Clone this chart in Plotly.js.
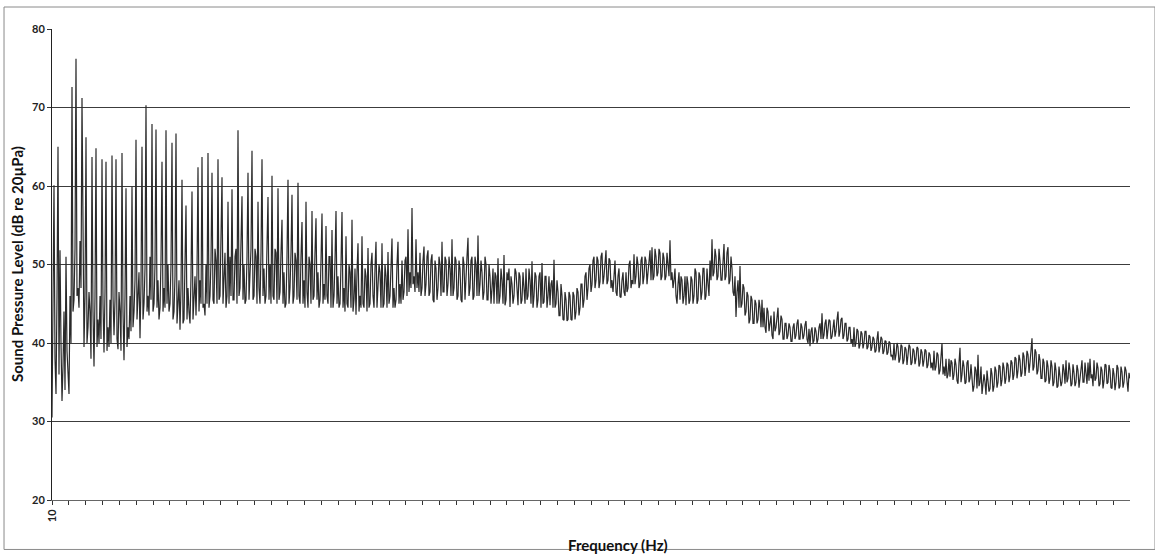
<!DOCTYPE html>
<html>
<head>
<meta charset="utf-8">
<script src="https://cdn.plot.ly/plotly-3.0.1.min.js"></script>
<style>html,body{margin:0;padding:0;background:#fff;}#chart{width:1155px;height:555px;}</style>
</head>
<body>
<div id="chart"></div>
<script>
// Frequency axis: category axis, only the first label is printed
const xTickLabels = ["10"];
const yTicks = [20, 30, 40, 50, 60, 70, 80];

// Sound pressure level (dB re 20µPa).
// Even-numbered frequency bins (0, 2, 4, ...)
const splEvenLow = [
 30.5,60.1,33.5,65.0,51.8,32.6,44,51.0,35,46,72.6,45.5,76.2,47,53,71.2,39.5,66.2,42,44,
 63.7,37,64.8,43,46,63.4,38.8,63.1,42,45.5,63.9,41,63.4,39.2,44,64.2,37.8,59.7,42,46,
 59.9,44,65.9,47,40.6,65.0,45,70.3,46,51,67.9,45,67.2,48,44.5,63.1,47,67.1,50,45,
 65.5,44,66.7,45,41.7,60.8,43,57.5,47,42.5,59.3,46,43.5,62.4,48,63.7,45,50,64.2,46,
 61.7,45,50.5,63.4,46,61.1,49,44.5,58.0,51,59.6,45.5,52,67.1,47,58.7,50,45.5,61.7,48,
 64.5,46,51,58.0,45,63.4,49.5,46,58.6,50,61.3,45.5,51.5,59.7,46.5,55.7,49,45,60.8,47,
 58.9,46,50.5,60.4,45,55.4,48,58.0,44.5,50,56.8,46,55.9,49,45.5,56.5,47.5,54.9,45,51,
 54.4,46,56.8,48.5,45,56.7,47,53.6,44.5,49,55.7,45.5,43.6,52.7,46,53.6,44.5,48.5,52.1,45,
 51.5,44.5,52.9,46.5,49,52.7,45,48.5,51.6,46,53.3,47,45.5,52.9,47.5,50.5,46.5,51,54.5,49
];
const splEvenMid = [
 57.2,48.5,53.2,49,51.5,47,52.3,47.5,51.8,46.5,51.3,45.2,49.5,47,50,52.9,46.5,50.5,47.5,49.5,
 53.2,47,50.5,46,49.5,45.2,50,47.5,53.4,47,51,46,50,53.7,47.5,49,46.5,50,45.5,48.5,
 47,45,48.5,50.8,46,48,51.2,45.5,48,44.6,47.5,46,49,44.8,48.5,45.5,47.5,49.5,46,48,
 50.4,46,48.5,45.5,49,50.2,45.2,48.5,46,44.8,48,50.6,45,46.5,43.5,46,42.9,45.5,43,46,
 42.9,46,44,46.5,44.5,47.5,45.5,49,47,50,47.5,51,48,50.5,47.8,51.5,48.5,51.8,48,50.5,
 48,49.5,46.5,48.5,45.9,48,46.5,49,47,50.5,48,51.3,48.5,50,47.5,51,48.5,50.5,49,51.8,
 52.2,48.5,51,49,51.5,48.5,50.8,48.5,50,53.1,49,48,46,47.5,45.5,48,46,44.8,47.5,45.5,
 48,46,49,45.5,48.5,46.5,49.5,46,47.5,50.5,53.2,49,51,48.5,50.5,48,52.6,48.5,52.2,48,
 49.5,46,43.3,48,49.8,45,47,44,46,43,45.5,42.5,45,43,44.5,45.5,44.5,41.3,44,42.5
];
const splEvenHigh = [
 41,44,42,44.5,41.5,43,40.5,42.5,41,42,40.2,42.5,41,43,40.5,42,41,42.8,40,39.6,
 42,40.3,41.5,40.5,42.5,43.8,41,43,41.5,42.8,40.8,43,41.5,44,41.5,43.2,41,42.5,40.5,42,
 40.5,42,40,41.5,39.8,41.2,40,41.5,39.5,40.8,39.5,40.5,39,41.5,39.5,40.5,39,40.2,38.8,40,
 38.5,40,38.5,39.5,38,39.6,37.8,39.2,38.2,39.5,37.5,39,38,39.3,37.5,38.8,37.8,39,37.2,38.5,
 37.5,39,37,38.5,36.5,40,37,38,36,35.7,37.5,36,37.2,34.8,39.4,36,37,35,37.8,35.5,
 36,34.5,36.5,38.5,35,33.5,36,33.4,35.5,34.2,36,34.5,36.5,35,37,35.3,36.8,35.5,37.2,35.8,
 37.5,36,38,36.5,37.8,36.2,38.3,37,38.5,37.5,40.6,37,38.8,36.5,37.8,35.5,37.5,35.2,37,35.5,
 37,35,36.5,34.5,36,35,36.5,37.8,35.5,36.5,34.8,36.2,35,36.5,35.5,37.8,35,36.5,37.5,38,
 36,37.8,35.5,36.8,34.8,36.5,35.2,37.2,35,36.5,34.2,36,35,36.8,34.5,36.3,35,36.5,33.8,35.5
];
// Odd-numbered frequency bins (1, 3, 5, ...)
const splOdd = [
 45,38,46,36,40,37,34,39,33.5,40,44,52,46,44.5,47,46.5,46,40,46.5,38,
 44,46,39.5,40,40.5,45,46.5,39,39.5,40,46,45.5,40.5,46.5,39,44,46,39.5,40.5,41.5,
 42,48,43,49,47.5,43,49.5,44,43.5,45.5,44,50,44.5,43,50.5,44,44.5,45,44,50,
 43,48.5,42.5,48,47,42.5,48.5,43,44,48.5,43,48.5,49,44,45,44.5,43.5,45,44.5,50.5,
 45.5,52,45,45.5,51.5,45,51.5,46,45,46,45.5,51,45,46,51.5,45.5,45,51,45.5,52,
 45.5,52,45,47,51.5,46,45,51.5,45.5,45,46,52,45,45.5,51.5,45,44.5,51,45,51.5,
 45,51.5,45.5,46,51,45,44.5,46.5,51,45,45.5,51.5,45.5,44.5,50.5,45,45.5,46,51,44.5,
 44.5,50.5,45,44.5,50,44.5,44,45,50,44.5,44,49.5,49,44,44.5,45,49.5,44,44.5,50,
 46,49.5,44.5,50,44.5,44.5,50,44.5,45,50,44.5,44.5,50,45,45,45.5,50.5,46,46.5,47,
 47.5,46.5,47,46.5,46,50.5,46,51,46,50.5,45.5,50.5,45.5,51,46,46.5,51,46,51,46,
 46,51,45.5,50.5,45.5,51,45.5,51,46,50.5,45.5,51,46,46,50.5,45.5,51,45.5,50,45,
 49.5,49,45,45,49.5,45,44.8,49,49.5,48.5,45,49.5,46,49,45,49,45,45.5,49.5,45,
 44.5,49,44.5,48.5,44.5,45,48.5,44.5,48.5,47.5,44.5,44.5,48,43.5,47.5,43,46.5,42.8,46.5,43,
 46.5,43,47,43.5,47.5,44.5,48.5,45.5,49.5,46.5,50.5,47,51,47,51,47.5,51,47.5,50.8,47,
 46.5,50.5,46,49.5,45.8,49,46,46.5,50,47,47.5,47.5,51,47,50.5,47.5,51,47.5,51.2,48,
 48,52,48.5,52,48,51.5,48,51.5,48.5,48,47,49.5,45,49,48.5,45,48.5,48.5,45,48.5,
 45,49.5,45,49,45.5,49.5,45.5,49.5,46,48,48.5,52,48,52,48,51.5,48,51.5,47.5,51,
 46.5,48.5,46.5,44.5,44.5,47.5,43.5,46.5,42.5,46,42.5,45.5,42.5,45.5,42,42,42,44.5,41.5,43.5,
 40.5,41.5,43.5,41,43.5,40.5,42.5,40.5,42.5,40.2,42,40.5,42.5,40.5,42.5,40.5,42.3,40.5,41.8,41.5,
 40,42,40,42,40.5,40.5,42.5,40.5,43,40.5,42.5,40.8,43,40.8,43,40.5,42.5,40.2,42,40,
 39.5,39.5,41.8,39.3,41.5,39.3,41.5,39.2,41,39,40.8,38.8,40.5,38.8,40.8,38.6,40.3,38.5,40.2,38.3,
 37.8,37.8,40,37.5,39.8,37.3,39.5,37.2,39.8,37.2,39.3,37.3,39.5,37,39.2,37,39.2,36.8,38.8,36.8,
 36.5,36.5,38.8,36,38.5,36,35.8,35.5,38,37.8,35.3,38,35.2,37.5,35,37.8,34.8,37.5,35,37.3,
 33.8,37,34.2,34.5,37,35.5,35,36.5,33.8,36.8,33.8,37,34.3,37.2,34.5,37.5,34.8,37.5,35,37.8,
 35.3,38.2,35.5,38.5,35.7,38.8,35.8,39,36.2,38.8,36.5,39.2,36,38.6,35.5,38,35,37.8,34.8,37.8,
 34.5,37.5,34.3,37,34.5,37.3,34.8,35,37.5,34.5,37.3,34.5,37.2,34.3,37,35,37.5,34.8,35.2,35.5,
 34.5,35.2,37.5,34.5,37,34.2,37.3,34.8,37.2,34.3,36.8,34,37.2,34.2,37,34.3,37,34.5,36.2
];

// merge even and odd bins into one spectrum in frequency order
const splEven = splEvenLow.concat(splEvenMid, splEvenHigh);
const spl = [];
for (let k = 0; k < splEven.length; k++) {
  spl.push(splEven[k]);
  if (k < splOdd.length) spl.push(splOdd[k]);
}
const n = spl.length;

// tick marks along the category axis (every ~16.85 bins)
const tickStep = 16.85;
const tickvals = [], ticktext = [];
for (let k = 0; k * tickStep <= n - 1; k++) {
  tickvals.push(k * tickStep);
  ticktext.push(k < xTickLabels.length ? xTickLabels[k] : "");
}

const FONT = "Lato, 'Open Sans', 'DejaVu Sans', sans-serif";

Plotly.newPlot("chart", [{
  y: spl,
  type: "scatter",
  mode: "lines",
  line: {color: "#2a2a2a", width: 1.2},
  hoverinfo: "skip"
}], {
  width: 1155, height: 555,
  margin: {l: 52, r: 25, t: 29, b: 55},
  paper_bgcolor: "#fff", plot_bgcolor: "#fff",
  showlegend: false,
  xaxis: {
    range: [0, n - 1], showgrid: false, zeroline: false,
    showline: true, linecolor: "#666", linewidth: 1,
    tickmode: "array", tickvals: tickvals, ticktext: ticktext,
    ticks: "outside", ticklen: 4, tickcolor: "#333", tickangle: -90,
    tickfont: {family: FONT, size: 11, color: "#222", weight: "bold"}
  },
  yaxis: {
    range: [20, 80], tickmode: "array", tickvals: yTicks,
    showgrid: true, gridcolor: "#3c3c3c", gridwidth: 1, zeroline: false,
    showline: true, linecolor: "#222", linewidth: 1,
    ticks: "outside", ticklen: 4, tickcolor: "#333",
    tickfont: {family: FONT, size: 11, color: "#222", weight: "bold"}
  },
  annotations: [
    {text: "Sound Pressure Level (dB re 20µPa)", xref: "paper", yref: "paper",
     x: -0.0325, y: 0.501, xanchor: "center", yanchor: "middle", textangle: -90,
     showarrow: false, font: {family: FONT, size: 15, color: "#111", weight: "bold"}},
    {text: "Frequency (Hz)", xref: "paper", yref: "paper",
     x: 0.525, y: -0.0955, xanchor: "center", yanchor: "middle",
     showarrow: false, font: {family: FONT, size: 15, color: "#111", weight: "bold"}}
  ],
  shapes: [
    {type: "rect", xref: "paper", yref: "paper", x0: -0.0445, x1: 1.0232, y0: -0.105, y1: 1.0467,
     line: {color: "#8a8a8a", width: 1}, fillcolor: "rgba(0,0,0,0)", layer: "below"}
  ]
}, {displayModeBar: false, staticPlot: true});
</script>
</body>
</html>
